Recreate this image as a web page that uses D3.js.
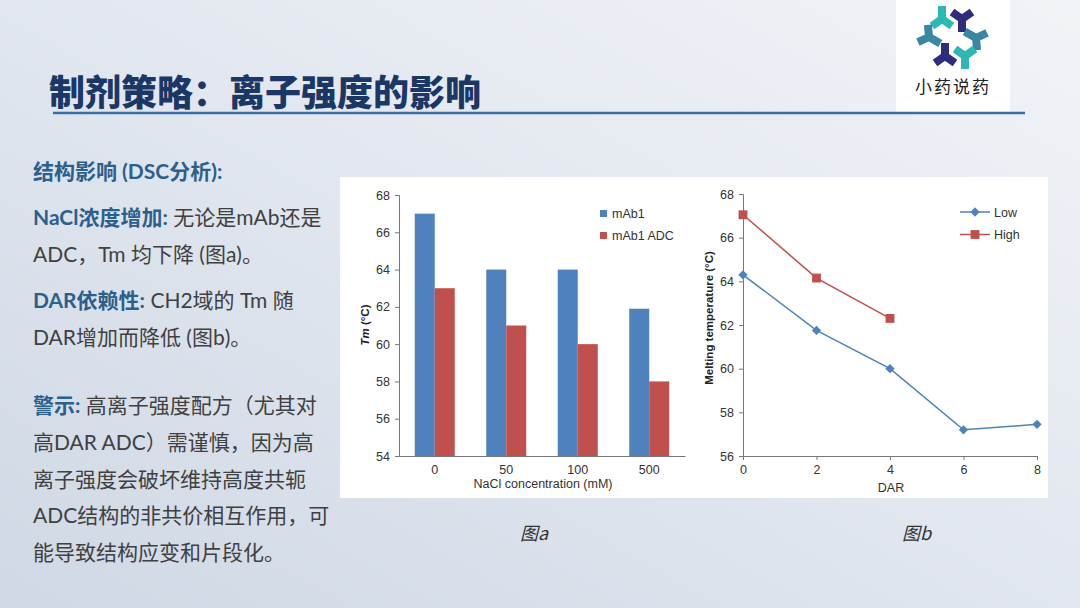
<!DOCTYPE html>
<html>
<head>
<meta charset="utf-8">
<script src="https://cdn.jsdelivr.net/npm/d3@7"></script>
<style>
  body { margin: 0; padding: 0; overflow: hidden; }
  svg { display: block; }
  .tick text { font-family: "Liberation Sans", Arial, sans-serif; font-size: 12.5px; fill: #333; }
</style>
</head>
<body>
<div id="slide"></div>
<script>
// Chart a data
const naclLevels = ['0', '50', '100', '500'];
const mabTm = [67, 64, 64, 61.9];
const adcTm = [63, 61, 60, 58];
const barSeries = ['mAb1', 'mAb1 ADC'];
const barTicks = [54, 56, 58, 60, 62, 64, 66, 68];

// Chart b data
const darValues = [0, 2, 4, 6, 8];
const lowTm = [64.3, 61.75, 60.0, 57.2, 57.45];
const highDar = [0, 2, 4];
const highTm = [67.05, 64.15, 62.3];
const lineTicksY = [56, 58, 60, 62, 64, 66, 68];

const blue = '#4f81bd';
const red = '#c0504d';
const cjk = 'Lato, "Noto Sans CJK SC", sans-serif';
const sans = '"Liberation Sans", Arial, sans-serif';

const svg = d3.select('#slide')
    .append('svg')
    .attr('width', 1080)
    .attr('height', 608);

// Background gradient
const defs = svg.append('defs');
const grad = defs.append('linearGradient')
    .attr('id', 'bg')
    .attr('x1', '0%').attr('y1', '100%')
    .attr('x2', '100%').attr('y2', '0%');
grad.append('stop').attr('offset', '0%').attr('stop-color', '#cfd8e5');
grad.append('stop').attr('offset', '55%').attr('stop-color', '#e3e8f0');
grad.append('stop').attr('offset', '100%').attr('stop-color', '#f1f3f7');
svg.append('rect').attr('width', 1080).attr('height', 608).attr('fill', 'url(#bg)');

// Logo box
svg.append('rect').attr('x', 896).attr('y', 0).attr('width', 114).attr('height', 113).attr('fill', '#ffffff');

// Title + rule
svg.append('text')
    .attr('x', 49).attr('y', 106)
    .attr('font-family', '"Noto Sans CJK SC", sans-serif')
    .attr('font-weight', 900)
    .attr('font-size', '36px')
    .attr('fill', '#1a3766')
    .text('制剂策略：离子强度的影响');
svg.append('line')
    .attr('x1', 53).attr('x2', 1025).attr('y1', 113).attr('y2', 113)
    .attr('stroke', '#3b6fa3').attr('stroke-width', 2.5);

// Logo glyphs: six Y shapes around a ring
const logoShapes = [
    { x: 942, y: 19, r: 180, c: '#2fb7b1' },
    { x: 962, y: 19, r: 0, c: '#2f2c7e' },
    { x: 976, y: 38, r: 120, c: '#3a86a3' },
    { x: 965, y: 56, r: 0, c: '#2fb7b1' },
    { x: 945, y: 56, r: 180, c: '#2f2c7e' },
    { x: 929, y: 37, r: -60, c: '#3a86a3' }
];
const yArm = 'M0,0 L0,13 M0,0 L-10,-7 M0,0 L10,-7';
svg.append('g').selectAll('path')
    .data(logoShapes)
    .enter()
    .append('path')
    .attr('d', yArm)
    .attr('transform', (d) => 'translate(' + d.x + ',' + d.y + ') rotate(' + d.r + ')')
    .attr('stroke', (d) => d.c)
    .attr('stroke-width', 8)
    .attr('stroke-linejoin', 'round')
    .attr('fill', 'none');
svg.append('text')
    .attr('x', 953).attr('y', 93)
    .attr('text-anchor', 'middle')
    .attr('font-family', '"Noto Sans CJK SC", sans-serif')
    .attr('font-size', '17px')
    .attr('letter-spacing', '2px')
    .attr('fill', '#222')
    .text('小药说药');

// Left text block
const textLines = [
    { y: 179, parts: [['结构影响 (DSC分析):', true]] },
    { y: 225, parts: [['NaCl浓度增加:', true], [' 无论是mAb还是', false]] },
    { y: 262, parts: [['ADC，Tm 均下降 (图a)。', false]] },
    { y: 308, parts: [['DAR依赖性:', true], [' CH2域的 Tm 随', false]] },
    { y: 345, parts: [['DAR增加而降低 (图b)。', false]] },
    { y: 413, parts: [['警示:', true], [' 高离子强度配方（尤其对', false]] },
    { y: 450, parts: [['高DAR ADC）需谨慎，因为高', false]] },
    { y: 487, parts: [['离子强度会破坏维持高度共轭', false]] },
    { y: 523, parts: [['ADC结构的非共价相互作用，可', false]] },
    { y: 560, parts: [['能导致结构应变和片段化。', false]] }
];
textLines.forEach((line) => {
    const t = svg.append('text')
        .attr('x', 33).attr('y', line.y)
        .attr('font-family', cjk)
        .attr('font-size', '21px');
    line.parts.forEach((p) => {
        t.append('tspan')
            .attr('font-weight', p[1] ? 700 : 400)
            .attr('fill', p[1] ? '#2c5f8c' : '#404040')
            .text(p[0]);
    });
});

// White chart panel
svg.append('rect').attr('x', 340).attr('y', 177).attr('width', 708).attr('height', 321).attr('fill', '#ffffff');

// ---------- Chart a: grouped bars ----------
const ax = d3.scaleBand().domain(naclLevels).range([399, 685]);
const ax1 = d3.scaleBand().domain(barSeries).range([0, 40]);
const ay = d3.scaleLinear().domain([54, 68]).range([456, 195]);

const ga = svg.append('g');
const barRows = naclLevels.map((n, i) => ({ n: n, vals: [mabTm[i], adcTm[i]] }));
ga.selectAll('g.grp')
    .data(barRows)
    .enter()
    .append('g')
    .attr('class', 'grp')
    .attr('transform', (d) => 'translate(' + (ax(d.n) + ax.bandwidth() / 2 - 20) + ',0)')
    .selectAll('rect')
    .data((d) => d.vals.map((v, j) => ({ s: barSeries[j], v: v })))
    .enter()
    .append('rect')
    .attr('x', (d) => ax1(d.s))
    .attr('width', ax1.bandwidth())
    .attr('y', (d) => ay(d.v))
    .attr('height', (d) => ay(54) - ay(d.v))
    .attr('fill', (d, j) => j === 0 ? blue : red);

const ayAxis = ga.append('g')
    .attr('transform', 'translate(399,0)')
    .call(d3.axisLeft(ay).tickValues(barTicks).tickSize(4).tickPadding(5));
const axAxis = ga.append('g')
    .attr('transform', 'translate(0,456)')
    .call(d3.axisBottom(ax).tickSize(0).tickPadding(9));
[ayAxis, axAxis].forEach((a) => {
    a.select('.domain').attr('stroke', '#777');
    a.selectAll('.tick line').attr('stroke', '#777');
});

ga.append('text')
    .attr('x', 543).attr('y', 488)
    .attr('text-anchor', 'middle')
    .attr('font-family', sans)
    .attr('font-size', '12.5px').attr('fill', '#333')
    .text('NaCl concentration (mM)');
const ylabA = ga.append('text')
    .attr('transform', 'translate(369,325) rotate(-90)')
    .attr('text-anchor', 'middle')
    .attr('font-family', sans)
    .attr('font-size', '11.5px').attr('font-weight', 700).attr('fill', '#222');
ylabA.append('tspan').attr('font-style', 'italic').text('Tm');
ylabA.append('tspan').text(' (°C)');

const legA = ga.append('g').selectAll('g')
    .data(barSeries)
    .enter()
    .append('g')
    .attr('transform', (d, i) => 'translate(600,' + (210 + i * 22) + ')');
legA.append('rect').attr('width', 7).attr('height', 7).attr('fill', (d, i) => i === 0 ? blue : red);
legA.append('text')
    .attr('x', 12).attr('y', 8)
    .attr('font-family', sans)
    .attr('font-size', '12.5px').attr('fill', '#333')
    .text((d) => d);

// ---------- Chart b: lines ----------
const bx = d3.scaleLinear().domain([0, 8]).range([743, 1037]);
const by = d3.scaleLinear().domain([56, 68]).range([456, 194]);
const gb = svg.append('g');

const byAxis = gb.append('g')
    .attr('transform', 'translate(743,0)')
    .call(d3.axisLeft(by).tickValues(lineTicksY).tickSize(4).tickPadding(5));
const bxAxis = gb.append('g')
    .attr('transform', 'translate(0,456)')
    .call(d3.axisBottom(bx).tickValues(darValues).tickSize(4).tickPadding(5));
[byAxis, bxAxis].forEach((a) => {
    a.select('.domain').attr('stroke', '#777');
    a.selectAll('.tick line').attr('stroke', '#777');
});

const lineGen = d3.line().x((d) => bx(d[0])).y((d) => by(d[1]));
const lowPts = darValues.map((d, i) => [d, lowTm[i]]);
const highPts = highDar.map((d, i) => [d, highTm[i]]);

gb.append('path').datum(lowPts).attr('d', lineGen)
    .attr('fill', 'none').attr('stroke', blue).attr('stroke-width', 1.5);
gb.append('path').datum(highPts).attr('d', lineGen)
    .attr('fill', 'none').attr('stroke', red).attr('stroke-width', 1.5);

const diamond = d3.symbol().type(d3.symbolDiamond2).size(55);
const square = d3.symbol().type(d3.symbolSquare2).size(100);
gb.selectAll('path.low')
    .data(lowPts)
    .enter()
    .append('path')
    .attr('class', 'low')
    .attr('d', diamond)
    .attr('transform', (d) => 'translate(' + bx(d[0]) + ',' + by(d[1]) + ')')
    .attr('fill', blue);
gb.selectAll('path.high')
    .data(highPts)
    .enter()
    .append('path')
    .attr('class', 'high')
    .attr('d', square)
    .attr('transform', (d) => 'translate(' + bx(d[0]) + ',' + by(d[1]) + ')')
    .attr('fill', red);

gb.append('text')
    .attr('x', 891).attr('y', 492)
    .attr('text-anchor', 'middle')
    .attr('font-family', sans)
    .attr('font-size', '12.5px').attr('fill', '#333')
    .text('DAR');
gb.append('text')
    .attr('transform', 'translate(713,318) rotate(-90)')
    .attr('text-anchor', 'middle')
    .attr('font-family', sans)
    .attr('font-size', '11.5px').attr('font-weight', 700).attr('fill', '#222')
    .text('Melting temperature (°C)');

const legB = gb.append('g').selectAll('g')
    .data(['Low', 'High'])
    .enter()
    .append('g')
    .attr('transform', (d, i) => 'translate(960,' + (212 + i * 22.5) + ')');
legB.append('line').attr('x1', 0).attr('x2', 30)
    .attr('stroke', (d, i) => i === 0 ? blue : red).attr('stroke-width', 1.5);
legB.append('path')
    .attr('d', (d, i) => i === 0 ? diamond() : square())
    .attr('transform', 'translate(15,0)')
    .attr('fill', (d, i) => i === 0 ? blue : red);
legB.append('text')
    .attr('x', 34).attr('y', 4.5)
    .attr('font-family', sans)
    .attr('font-size', '12.5px').attr('fill', '#333')
    .text((d) => d);

// Captions
[['图a', 520], ['图b', 902]].forEach((c) => {
    svg.append('text')
        .attr('x', c[1]).attr('y', 540)
        .attr('font-family', '"Noto Sans CJK SC", sans-serif')
        .attr('font-size', '18px').attr('font-style', 'italic')
        .attr('fill', '#333')
        .text(c[0]);
});
</script>
</body>
</html>
